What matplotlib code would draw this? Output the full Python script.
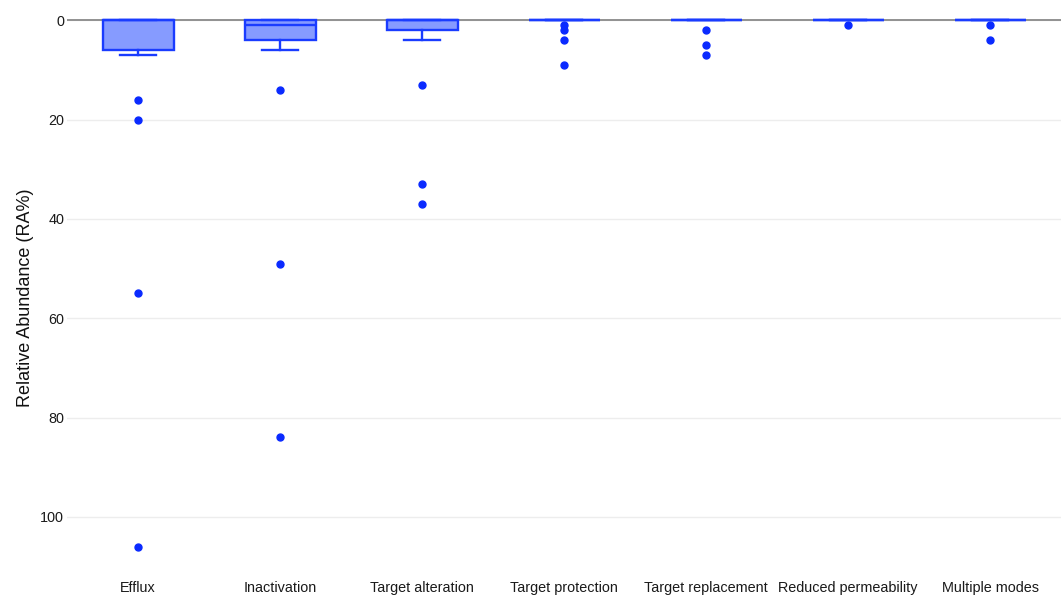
import matplotlib.pyplot as plt
import numpy as np

# resistance mechanism categories
mechanisms = ['Efflux', 'Inactivation', 'Target alteration', 'Target protection',
              'Target replacement', 'Reduced permeability', 'Multiple modes']

# box summary per mechanism (RA%)
q1 = [0, 0, 0, 0, 0, 0, 0]
median = [0, 1, 0, 0, 0, 0, 0]
q3 = [6, 4, 2, 0, 0, 0, 0]
whisker_lo = [0, 0, 0, 0, 0, 0, 0]
whisker_hi = [7, 6, 4, 0, 0, 0, 0]
outliers = [
    [16, 20, 55, 106],
    [14, 49, 84],
    [13, 33, 37],
    [1, 2, 4, 9],
    [2, 5, 7],
    [1],
    [1, 4],
]

edge = '#1a3cff'
fill = '#869bff'
dot = '#0a2aff'

plt.rcParams['font.family'] = ['Liberation Sans', 'DejaVu Sans']

fig = plt.figure(figsize=(10.61, 5.95), dpi=100, facecolor='white')
ax = fig.add_axes([67 / 1061, 20 / 595, 1 - 67 / 1061, 575 / 595])

stats = []
for i, name in enumerate(mechanisms):
    stats.append({'label': name, 'q1': q1[i], 'med': median[i], 'q3': q3[i],
                  'whislo': whisker_lo[i], 'whishi': whisker_hi[i],
                  'fliers': outliers[i]})

ax.bxp(stats, positions=np.arange(len(mechanisms)), widths=0.5,
       patch_artist=True, showfliers=True,
       boxprops=dict(facecolor=fill, edgecolor=edge, linewidth=1.7),
       medianprops=dict(color=edge, linewidth=1.7),
       whiskerprops=dict(color=edge, linewidth=1.7),
       capprops=dict(color=edge, linewidth=1.7),
       capwidths=0.25,
       flierprops=dict(marker='o', markersize=5, markerfacecolor=dot,
                       markeredgecolor=dot, linestyle='none'),
       zorder=3)

# zero line and grid
ax.axhline(0, color='#8a8a8a', linewidth=1.3, zorder=2)
ax.set_yticks([0, 20, 40, 60, 80, 100])
ax.yaxis.grid(True, color='#ededed', linewidth=1.0)
ax.set_axisbelow(True)

ax.set_xlim(-0.5, len(mechanisms) - 0.5)
ax.set_ylim(111.7, -4.1)

for s in ax.spines.values():
    s.set_visible(False)

ax.tick_params(axis='both', length=0, labelsize=10.4, colors='#1a1a1a')
ax.tick_params(axis='y', pad=2)
ax.tick_params(axis='x', pad=4.5)
ax.set_xticks(np.arange(len(mechanisms)))
ax.set_xticklabels(mechanisms)

ax.set_ylabel('Relative Abundance (RA%)', fontsize=13, color='#111111')
ax.yaxis.set_label_coords(-0.033, 1 - 298 / 575)

fig.savefig('out.png', dpi=100, facecolor='white')
